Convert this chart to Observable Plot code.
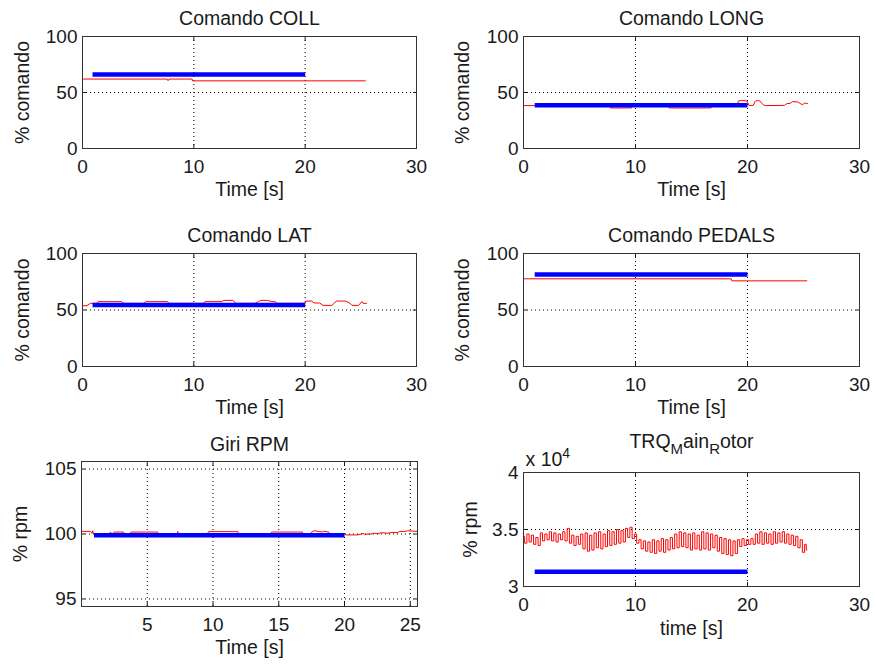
<!DOCTYPE html>
<html><head><meta charset="utf-8">
<script src="https://cdn.jsdelivr.net/npm/d3@7"></script>
<script src="https://cdn.jsdelivr.net/npm/@observablehq/plot@0.6"></script>
<style>
body{margin:0;background:#fff;}
#wrap{position:relative;width:876px;height:664px;overflow:hidden;background:#fff;}
</style></head><body><div id="wrap"></div>
<script>
// ---------- tick labels ----------
const ticksTime30 = [0, 10, 20, 30];
const ticksPct = [0, 50, 100];
const ticksTimeRpm = [5, 10, 15, 20, 25];
const ticksRpm = [95, 100, 105];
const ticksTrq = [30000, 35000, 40000];

// ---------- Comando COLL ----------
const collCmdT = [0.9, 20];
const collCmdV = [66, 66];
const collT = [0, 7.6, 7.62, 7.75, 7.77, 9.85, 9.87, 25.4];
const collV = [62, 62, 61, 61, 62, 62, 60.4, 60.4];

// ---------- Comando LONG ----------
const longCmdT = [1.0, 20];
const longCmdV = [38.6, 38.6];
const longT = [0, 7.7, 7.75, 9.65, 9.7, 12.95, 13.0, 16.75, 16.8, 19.05, 19.2, 19.5, 19.95, 20.15, 20.5, 20.7, 20.9, 21.1, 21.4, 21.6, 23.3, 23.5, 23.8, 24.0, 24.5, 24.7, 24.9, 25.1, 25.35];
const longV = [38.3, 38.3, 36.2, 36.2, 38.3, 38.3, 36.2, 36.2, 38.3, 38.3, 42.5, 42.8, 42.5, 38.3, 38.5, 42.3, 42.8, 42.4, 39.0, 38.3, 38.5, 40.0, 40.3, 41.8, 41.6, 40.2, 39.1, 40.5, 40.2];

// ---------- Comando LAT ----------
const latCmdT = [0.9, 20];
const latCmdV = [54.4, 54.4];
const latT = [0, 0.4, 0.7, 1.3, 1.4, 3.5, 3.7, 5.5, 5.7, 7.6, 7.8, 10.9, 11.0, 12.5, 12.7, 13.5, 13.8, 15.5, 15.8, 16.0, 16.6, 17.0, 17.3, 17.5, 20.0, 20.1, 20.6, 20.8, 21.3, 21.6, 22.4, 22.8, 23.6, 24.0, 24.2, 24.8, 25.1, 25.2, 25.5];
const latV = [53.8, 53.8, 55.9, 55.9, 57.4, 57.4, 55.9, 55.9, 57.4, 57.4, 55.9, 55.9, 57.4, 57.4, 58.5, 58.5, 55.9, 55.9, 57.4, 58.5, 58.5, 57.4, 57.4, 55.9, 55.9, 57.9, 57.9, 56.2, 56.2, 54.1, 54.1, 57.9, 57.9, 56.2, 54.1, 54.1, 57.5, 55.9, 55.9];

// ---------- Comando PEDALS ----------
const pedCmdT = [1.0, 20];
const pedCmdV = [81.5, 81.5];
const pedT = [0, 18.55, 18.6, 25.3];
const pedV = [77.6, 77.6, 75.8, 75.8];

// ---------- Giri RPM ----------
const rpmCmdT = [0.95, 20];
const rpmCmdV = [99.9, 99.9];
const rpmT = [0, 0.7, 0.8, 0.85, 0.9, 1.0, 2.1, 2.2, 2.3, 2.5, 3.2, 3.25, 3.7, 3.75, 5.8, 5.85, 7.3, 7.32, 7.35, 9.6, 9.65, 11.9, 11.95, 14.4, 14.45, 16.8, 16.85, 17.4, 17.5, 17.7, 18.0, 18.3, 18.4, 18.8, 18.85, 20.0, 20.1, 21.0, 21.2, 21.4, 21.5, 22.0, 22.3, 22.5, 22.8, 23.3, 23.6, 24.0, 24.2, 24.5, 24.8, 25.2, 25.55];
const rpmV = [100.2, 100.2, 100.05, 100.25, 100.1, 100.0, 100.0, 100.15, 100.0, 100.15, 100.15, 100.0, 100.0, 100.15, 100.15, 100.0, 100.0, 100.2, 100.0, 100.0, 100.18, 100.18, 100.0, 100.0, 100.15, 100.15, 100.0, 100.0, 100.15, 100.25, 100.2, 100.15, 100.22, 100.15, 100.0, 100.0, 99.93, 99.93, 99.98, 100.05, 99.98, 100.0, 100.06, 100.02, 100.1, 100.06, 100.12, 100.1, 100.2, 100.18, 100.25, 100.22, 100.2];

// ---------- TRQ Main Rotor ----------
const trqCmdT = [1.0, 20];
const trqCmdV = [31300, 31300];
const trqT = [0,0.2,0.4,0.6,0.8,1,1.2,1.4,1.6,1.8,2,2.2,2.4,2.6,2.8,3,3.2,3.4,3.6,3.8,4,4.2,4.4,4.6,4.8,5,5.2,5.4,5.6,5.8,6,6.2,6.4,6.6,6.8,7,7.2,7.4,7.6,7.8,8,8.2,8.4,8.6,8.8,9,9.2,9.4,9.6,9.8,10,10.2,10.4,10.6,10.8,11,11.2,11.4,11.6,11.8,12,12.2,12.4,12.6,12.8,13,13.2,13.4,13.6,13.8,14,14.2,14.4,14.6,14.8,15,15.2,15.4,15.6,15.8,16,16.2,16.4,16.6,16.8,17,17.2,17.4,17.6,17.8,18,18.2,18.4,18.6,18.8,19,19.2,19.4,19.6,19.8,20,20.2,20.4,20.6,20.8,21,21.2,21.4,21.6,21.8,22,22.2,22.4,22.6,22.8,23,23.2,23.4,23.6,23.8,24,24.2,24.4,24.6,24.8,25,25.2,25.3];
const trqV = [34400,33800,34600,33900,34500,33700,34300,33600,34700,34000,
34600,34100,34800,34000,34700,33900,34600,34100,34800,34000,
35100,33800,34500,33600,34400,33700,34600,33300,34700,33100,
34500,33200,34700,33400,34800,33300,34600,33500,34900,33600,
34800,33700,35000,33800,34900,33900,35100,34300,35200,34200,
34600,33800,34100,33300,34000,33100,33900,33000,34100,32900,
34000,33100,34200,33000,34100,33200,34300,33300,34600,33400,
34800,33500,34700,33400,34600,33200,34700,33300,34500,33200,
34800,33300,34700,33200,34600,33400,34500,33100,34300,32900,
34200,32800,34100,32700,34000,32900,34100,33500,34200,33600,
34100,33700,34200,33700,34600,33800,34800,33700,34700,33800,
34600,33700,34800,33800,34700,33900,34800,33800,34600,33700,
34500,33600,34400,33400,34100,33000,33700,33200];

const zipTV = (T, V) => T.map((t, i) => ({t, v: V[i]}));
const FONT = "'Liberation Sans', Arial, Helvetica, sans-serif";
const GRID = {stroke: "#000", strokeOpacity: 1, strokeWidth: 1, strokeDasharray: "1,3"};
const TXT = {text: d => d, fontSize: 19.5, fill: "#1a1a1a", textAnchor: "middle", lineAnchor: "middle"};

function panel(o) {
  const blank = () => "";
  const svg = Plot.plot({
    width: o.width, height: o.height,
    marginLeft: o.mL, marginRight: o.mR, marginTop: o.mT, marginBottom: o.mB,
    x: {domain: o.xDomain},
    y: {domain: o.yDomain},
    style: {fontFamily: FONT, fontSize: "19px", color: "#1a1a1a", background: "transparent",
            position: "absolute", left: o.left + "px", top: o.top + "px", overflow: "visible", maxWidth: "none"},
    marks: [
      Plot.gridX(o.xTicks, GRID),
      Plot.gridY(o.yTicks, GRID),
      Plot.line(zipTV(o.actT, o.actV), {x: "t", y: "v", stroke: "#ff0000", strokeWidth: 1, curve: o.curve || "linear"}),
      Plot.line(zipTV(o.cmdT, o.cmdV), {x: "t", y: "v", stroke: "#0000ff", strokeWidth: 4.5, strokeLinecap: "butt"}),
      Plot.axisX(o.xTicks, {anchor: "bottom", tickSize: 0, tickPadding: 11, label: null, tickFormat: o.xFmt || (d => d)}),
      Plot.axisX(o.xTicks, {anchor: "bottom", tickSize: -4, tickPadding: 0, label: null, tickFormat: blank}),
      Plot.axisX(o.xTicks, {anchor: "top", tickSize: -4, tickPadding: 0, label: null, tickFormat: blank}),
      Plot.axisY(o.yTicks, {anchor: "left", tickSize: 0, tickPadding: 5, label: null, tickFormat: o.yFmt || (d => d)}),
      Plot.axisY(o.yTicks, {anchor: "left", tickSize: -4, tickPadding: 0, label: null, tickFormat: blank}),
      Plot.axisY(o.yTicks, {anchor: "right", tickSize: -4, tickPadding: 0, label: null, tickFormat: blank}),
      Plot.frame({stroke: "#333", strokeWidth: 1}),
      Plot.text([o.title], {...TXT, frameAnchor: "top", dy: o.titleDy}),
      Plot.text([o.ylabel], {...TXT, frameAnchor: "left", dx: o.ylabelDx, rotate: -90}),
      Plot.text([o.xlabel], {...TXT, frameAnchor: "bottom", dy: o.xlabelDy}),
      ...(o.extra || [])
    ]
  });
  document.getElementById("wrap").appendChild(svg);
  return svg;
}

const top4 = {width: 438, height: 210, mT: 36, mB: 62, titleDy: -18, xlabelDy: 41,
  xDomain: [0, 30], yDomain: [0, 100], xTicks: ticksTime30, yTicks: ticksPct, xlabel: "Time [s]", ylabel: "% comando"};

panel({...top4, left: 0, top: 0, mL: 82, mR: 22, ylabelDx: -60, title: "Comando COLL",
  cmdT: collCmdT, cmdV: collCmdV, actT: collT, actV: collV});
panel({...top4, left: 438, top: 0, mL: 85, mR: 17, ylabelDx: -61, title: "Comando LONG",
  cmdT: longCmdT, cmdV: longCmdV, actT: longT, actV: longV});
panel({...top4, left: 0, top: 218, mT: 35, mL: 82, mR: 22, ylabelDx: -60, title: "Comando LAT",
  cmdT: latCmdT, cmdV: latCmdV, actT: latT, actV: latV});
panel({...top4, left: 438, top: 218, mT: 35, mL: 85, mR: 17, ylabelDx: -61, title: "Comando PEDALS",
  cmdT: pedCmdT, cmdV: pedCmdV, actT: pedT, actV: pedV});

panel({left: 0, top: 436, width: 438, height: 228, mL: 81, mR: 21, mT: 25, mB: 58,
  xDomain: [0, 25.55], yDomain: [94.42, 105.58], xTicks: ticksTimeRpm, yTicks: ticksRpm,
  title: "Giri RPM", titleDy: -17, ylabel: "% rpm", ylabelDx: -61, xlabel: "Time [s]", xlabelDy: 41,
  cmdT: rpmCmdT, cmdV: rpmCmdV, actT: rpmT, actV: rpmV});

const trqSvg = panel({left: 438, top: 436, width: 438, height: 228, mL: 85, mR: 17, mT: 36, mB: 78,
  xDomain: [0, 30], yDomain: [30000, 40000], xTicks: ticksTime30, yTicks: ticksTrq, yFmt: d => d / 10000,
  title: "TRQ_Main_Rotor", titleDy: -31, ylabel: "% rpm", ylabelDx: -53, xlabel: "time [s]", xlabelDy: 42,
  cmdT: trqCmdT, cmdV: trqCmdV, actT: trqT, actV: trqV, curve: "step",
  extra: [Plot.text(["x 10^4"], {...TXT, frameAnchor: "top-left", textAnchor: "start", dx: 2, dy: -13})]});

// TeX-like sub/superscripts for the MATLAB-style labels
d3.select(trqSvg).selectAll("text").each(function() {
  const s = this.textContent;
  if (s === "TRQ_Main_Rotor") {
    const t = d3.select(this); t.text(null);
    t.append("tspan").text("TRQ");
    t.append("tspan").attr("dy", 6).attr("font-size", 15).text("M");
    t.append("tspan").attr("dy", -6).text("ain");
    t.append("tspan").attr("dy", 6).attr("font-size", 15).text("R");
    t.append("tspan").attr("dy", -6).text("otor");
  } else if (s === "x 10^4") {
    const t = d3.select(this); t.text(null);
    t.append("tspan").text("x 10");
    t.append("tspan").attr("dy", -8).attr("font-size", 14).text("4");
  }
});
</script>
</body></html>
